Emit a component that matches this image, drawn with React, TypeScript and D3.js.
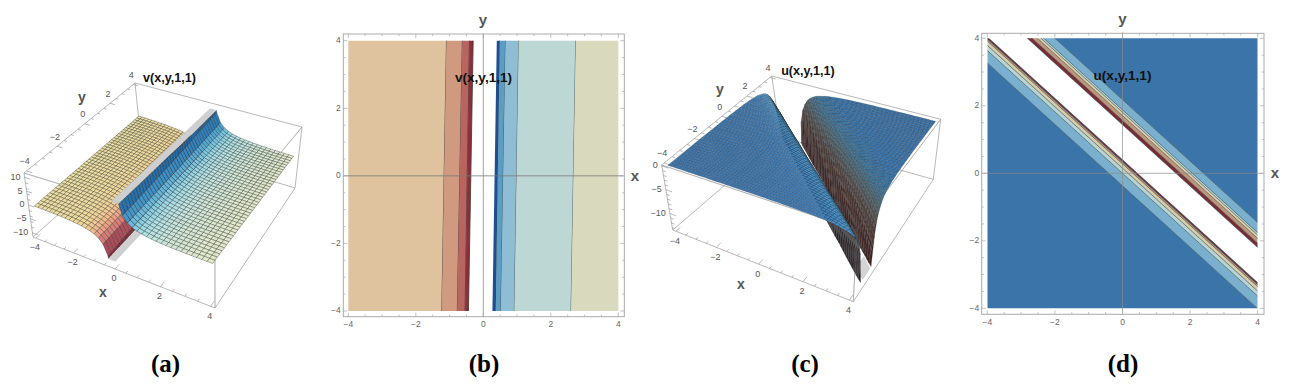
import React from "react";
import * as d3 from "d3";

// ---------- data ----------
const major3D = [-4, -2, 0, 2, 4];
const minor3D = [-3.5, -3, -2.5, -1.5, -1, -0.5, 0.5, 1, 1.5, 2.5, 3, 3.5];
const meshA = d3.range(-20, 21).map((i) => i * 0.2);
const meshC = d3.range(-25, 26).map((i) => i * 0.16);

// v(x,y,1,1): height against the distance from the singular line (odd about it)
const vDist = [0.05, 0.2, 0.3, 0.4, 0.5, 0.6, 0.7, 0.8, 0.9, 1, 1.2, 1.4, 1.7, 2, 2.5, 3, 3.5, 4];
const vHeight = [60, 15, 10, 7.5, 6, 5, 4.3, 3.75, 3.33, 3, 2.5, 2.15, 1.76, 1.5, 1.2, 1, 0.86, 0.75];
const vZ = [-10, -6, -4, -3, -2, -0.75, 0.75, 1, 1.5, 2.5, 3.5, 5, 7, 10];
const vColors = ["#7a2238", "#c4606a", "#e59080", "#f2b98e", "#f0d69a", "#ecdfa6", "#e6e9c6", "#dde7cf", "#c9e6dc", "#a5dce4", "#7cc8e0", "#4aa0cf", "#2f80bb", "#1f5f9f"];

// u(x,y,1,1): height against the distance from the singular line
const uDist = [0.05, 0.1, 0.2, 0.3, 0.4, 0.5, 0.6, 0.7, 0.8, 1, 1.25, 1.5, 2, 2.5, 3, 4, 5, 6, 9];
const uHeight = [-400, -300, -75, -33, -19, -12, -8.3, -6.1, -4.7, -3, -1.9, -1.33, -0.75, -0.48, -0.33, -0.19, -0.12, -0.08, -0.04];
const uZ = [0, -0.5, -1.5, -3, -6, -13];
const uLeftColors = ["#3a72a8", "#3f7cb4", "#4f9dd2", "#4a7e98", "#4f4a48", "#2e1c1c"];
const uRightColors = ["#3a72a8", "#3574ad", "#3f7596", "#4e666e", "#574a44", "#3f1e1c"];

// contour panel (b): band edges at y=4 and y=-4
const bTop = [-4, -1.09, -0.62, -0.41, -0.3];
const bBottom = [-4, -1.23, -0.77, -0.54, -0.44];
const bLeftColors = ["#dfc39f", "#cf9a7f", "#b8655f", "#8a2f3b"];
const bRightTop = [0.4, 0.49, 0.66, 1.05, 2.74, 4];
const bRightBottom = [0.27, 0.37, 0.52, 0.92, 2.6, 4];
const bRightColors = ["#1f4f92", "#5c9dc4", "#8fbdd3", "#bdd7d5", "#d9d9bd"];

// contour panel (d): band edges as y + 0.91 x = c
const dSlope = 0.91;
const dLow = [-0.37, 0, 0.15, 0.28, 0.34, 0.4];
const dLowColors = ["#7ab0cd", "#b9d4d2", "#d9cca6", "#c19577", "#7a2a33"];
const dHigh = [1.44, 1.57, 1.71, 1.81, 1.88, 2.18];
const dHighColors = ["#7a2a33", "#c19577", "#d9cca6", "#b9d4d2", "#7ab0cd"];
const dBase = "#3b74a8";

const ticks2D = [-4, -2, 0, 2, 4];
const minor2D = d3.range(-8, 9).map((i) => i * 0.5).filter((v) => v % 2 !== 0);

const tickFont = "'Liberation Sans', Arial, sans-serif";
const fmt = (v: number) => (v < 0 ? "\u2212" + Math.abs(v) : String(v));

// ---------- 3D helpers ----------
type P = [number, number];
type Box = { top: P[]; bottom: P[]; zTop: number; zBottom: number; rx: number; ry: number };
const half = 4.16;

function projector(b: Box) {
  const nx = d3.scaleLinear().domain([-half, half]).range([0, 1]);
  const nz = d3.scaleLinear().domain([b.zTop, b.zBottom]).range([0, 1]);
  const warp = (t: number, r: number) => t / (t + (1 - t) * r);
  const bil = (c: P[], u: number, v: number): P => [
    (1 - v) * ((1 - u) * c[0][0] + u * c[1][0]) + v * ((1 - u) * c[3][0] + u * c[2][0]),
    (1 - v) * ((1 - u) * c[0][1] + u * c[1][1]) + v * ((1 - u) * c[3][1] + u * c[2][1]),
  ];
  return (x: number, y: number, z: number): P => {
    const u = warp(nx(x), b.rx);
    const v = warp(nx(y), b.ry);
    const w = nz(z);
    const t = bil(b.top, u, v);
    const o = bil(b.bottom, u, v);
    return [t[0] + (o[0] - t[0]) * w, t[1] + (o[1] - t[1]) * w];
  };
}

type V3 = [number, number, number];
function clipZ(poly: V3[], limit: number, keepBelow: boolean): V3[] {
  const inside = (p: V3) => (keepBelow ? p[2] <= limit : p[2] >= limit);
  const out: V3[] = [];
  poly.forEach((p, i) => {
    const q = poly[(i + 1) % poly.length];
    const a = inside(p), c = inside(q);
    if (a) out.push(p);
    if (a !== c) {
      const t = (limit - p[2]) / (q[2] - p[2]);
      out.push([p[0] + (q[0] - p[0]) * t, p[1] + (q[1] - p[1]) * t, limit]);
    }
  });
  return out;
}

type Cell = { d: string; fill: string; key: number };

function cells(
  mesh: number[],
  side: (x: number, y: number) => number,
  height: (x: number, y: number) => number,
  lo: number,
  hi: number,
  proj: (x: number, y: number, z: number) => P,
  color: (z: number, s: number) => string,
  keyOf: (x: number, y: number, s: number) => number,
  wanted: number
): Cell[] {
  const res: Cell[] = [];
  const line = d3.line();
  for (let i = 0; i < mesh.length - 1; i++)
    for (let j = 0; j < mesh.length - 1; j++) {
      const cx = [mesh[i], mesh[i + 1], mesh[i + 1], mesh[i]];
      const cy = [mesh[j], mesh[j], mesh[j + 1], mesh[j + 1]];
      const signs = cx.map((x, k) => Math.sign(side(x, cy[k])));
      if (signs.some((s) => s !== wanted)) continue;
      let poly: V3[] = cx.map((x, k) => [x, cy[k], height(x, cy[k])] as V3);
      const mz = d3.mean(poly, (p) => Math.max(lo, Math.min(hi, p[2]))) as number;
      poly = clipZ(poly, hi, true);
      if (poly.length) poly = clipZ(poly, lo, false);
      if (poly.length < 3) continue;
      const mx = (cx[0] + cx[1]) / 2, my = (cy[0] + cy[2]) / 2;
      res.push({
        d: (line(poly.map((p) => proj(p[0], p[1], p[2]))) as string) + "Z",
        fill: color(mz, wanted),
        key: keyOf(mx, my, side(mx, my)),
      });
    }
  return res.sort((a, b) => a.key - b.key);
}

function Cube({ box, part }: { box: Box; part: "back" | "front" }) {
  const t = box.top, b = box.bottom;
  const seg = (p: P, q: P, k: string) => (
    <line key={k} x1={p[0]} y1={p[1]} x2={q[0]} y2={q[1]} stroke="#9a9a9a" strokeWidth={0.7} opacity={part === "front" ? 0.3 : 1} />
  );
  if (part === "front") return <g>{seg(t[0], t[1], "a")}{seg(t[1], t[2], "b")}{seg(t[1], b[1], "c")}</g>;
  return (
    <g>
      {[0, 1, 2, 3].map((i) => seg(t[i], t[(i + 1) % 4], "t" + i))}
      {[0, 1, 2, 3].map((i) => seg(b[i], b[(i + 1) % 4], "o" + i))}
      {[0, 1, 2, 3].map((i) => seg(t[i], b[i], "v" + i))}
    </g>
  );
}

function Ticks3D({ box, proj, zMajor, zMinor, labelX, labelY }: any) {
  const marks: any[] = [];
  const tick = (p: P, q: P, k: string) => marks.push(<line key={k} x1={p[0]} y1={p[1]} x2={q[0]} y2={q[1]} stroke="#8a8a8a" strokeWidth={0.6} />);
  const text = (x: number, y: number, s: string, k: string, anchor = "middle") =>
    marks.push(
      <text key={k} x={x} y={y} textAnchor={anchor} dominantBaseline="middle" fontFamily={tickFont} fontSize={9} fill="#555">{s}</text>
    );
  [...major3D, ...minor3D].forEach((v) => {
    const len = major3D.includes(v) ? 0.3 : 0.15;
    const a = proj(v, -half, box.zBottom);
    tick(a, proj(v, -half + len, box.zBottom), "x" + v);
    const c = proj(-half, v, box.zTop);
    tick(c, proj(-half + len, v, box.zTop), "y" + v);
    if (major3D.includes(v)) {
      text(a[0] - 1, a[1] + 10, fmt(v), "xl" + v);
      text(c[0] - 2, c[1] - 9, fmt(v), "yl" + v);
    }
  });
  [...zMajor, ...zMinor].forEach((v: number) => {
    const len = zMajor.includes(v) ? 0.3 : 0.15;
    const a = proj(-half, -half, v);
    tick(a, proj(-half + len, -half, v), "z" + v);
    if (zMajor.includes(v)) text(a[0] - 4, a[1], fmt(v), "zl" + v, "end");
  });
  return (
    <g>
      {marks}
      <text x={labelX[0]} y={labelX[1]} textAnchor="middle" dominantBaseline="middle" fontFamily={tickFont} fontWeight="bold" fontSize={14} fill="#555">x</text>
      <text x={labelY[0]} y={labelY[1]} textAnchor="middle" dominantBaseline="middle" fontFamily={tickFont} fontWeight="bold" fontSize={14} fill="#555">y</text>
    </g>
  );
}

const Title = ({ x, y, s, size = 12.6 }: { x: number; y: number; s: string; size?: number }) => (
  <text x={x} y={y} textAnchor="middle" fontFamily={tickFont} fontWeight="bold" fontSize={size} fill="#111">{s}</text>
);
const Caption = ({ x, s }: { x: number; s: string }) => (
  <text x={x} y={372} textAnchor="middle" fontFamily="'Liberation Serif', serif" fontWeight="bold" fontSize={25} fill="#000">{s}</text>
);

// ---------- panel (a) ----------
function PanelA() {
  const box: Box = {
    top: [[24, 173], [215, 232], [302, 127], [135, 83]],
    bottom: [[33, 237], [215, 308], [295, 188], [141, 141]],
    zTop: 11.6, zBottom: -11.6, rx: 1.22, ry: 0.83,
  };
  const proj = projector(box);
  const prof = d3.scaleLinear().domain(vDist).range(vHeight).clamp(true);
  const col = d3.scaleLinear<string>().domain(vZ).range(vColors).clamp(true);
  const dist = (x: number, y: number) => x - 0.0175 * y - 0.001;
  const h = (x: number, y: number) => Math.sign(dist(x, y)) * prof(Math.abs(dist(x, y)));
  const clip = 10;
  const left = cells(meshA, dist, h, -clip, clip, proj, (z) => col(z), (x, y) => x - y, -1);
  const right = cells(meshA, dist, h, -clip, clip, proj, (z) => col(z), (x, y) => x - y, 1);
  const line = d3.line();
  const cap = (x0: number, x1: number, z: number) =>
    (line([proj(x0 - 0.07, -4, z), proj(x1 - 0.07, -4, z), proj(x1 + 0.07, 4, z), proj(x0 + 0.07, 4, z)]) as string) + "Z";
  return (
    <g>
      <Cube box={box} part="back" />
      <Ticks3D box={box} proj={proj} zMajor={[-10, -5, 0, 5, 10]} zMinor={[-8, -6, -4, -2, 2, 4, 6, 8]} labelX={[103, 293]} labelY={[82, 98]} />
      {left.map((c, i) => <path key={i} d={c.d} fill={c.fill} stroke="#2c2c22" strokeOpacity={0.8} strokeWidth={0.45} />)}
      <path d={cap(-0.3, 0, -clip)} fill="#cfcfcf" stroke="#bdbdbd" strokeWidth={0.4} />
      <path d={cap(0, 0.32, clip)} fill="#cfcfcf" stroke="#bdbdbd" strokeWidth={0.4} />
      {right.map((c, i) => <path key={i} d={c.d} fill={c.fill} stroke="#1e2c32" strokeOpacity={0.8} strokeWidth={0.45} />)}
      <Cube box={box} part="front" />
      <Title x={169.5} y={81.5} s="v(x,y,1,1)" />
    </g>
  );
}

// ---------- panel (c) ----------
function PanelC() {
  const box: Box = {
    top: [[661.7, 165], [857, 230], [940.7, 119.3], [771.7, 76]],
    bottom: [[672.7, 230], [853.3, 301.7], [933.3, 179.3], [781, 137]],
    zTop: 0.2, zBottom: -13.5, rx: 1.1, ry: 0.83,
  };
  const proj = projector(box);
  const prof = d3.scaleLinear().domain(uDist).range(uHeight).clamp(true);
  const colL = d3.scaleLinear<string>().domain(uZ).range(uLeftColors).clamp(true);
  const colR = d3.scaleLinear<string>().domain(uZ).range(uRightColors).clamp(true);
  const dist = (x: number, y: number) => y + dSlope * x - 0.923;
  const h = (x: number, y: number) => prof(Math.abs(dist(x, y)));
  const clip = -13.3;
  const right = cells(meshC, dist, h, clip, 1, proj, (z) => colR(z), (x, y) => x - y, 1);
  const left = cells(meshC, dist, h, clip, 1, proj, (z) => colL(z), (x, y, s) => -s * 100 + (x - y), -1);
  const line = d3.line();
  const capPts: P[] = [proj(3.5, -2.6, clip), proj(4, -3.0, clip), proj(4, -2.35, clip), proj(3.5, -1.85, clip)];
  return (
    <g>
      <Cube box={box} part="back" />
      <Ticks3D box={box} proj={proj} zMajor={[0, -5, -10]} zMinor={[-1, -2, -3, -4, -6, -7, -8, -9, -11, -12, -13]} labelX={[741, 285]} labelY={[720, 90]} />
      <path d={(line(capPts) as string) + "Z"} fill="#d4d4d4" stroke="#bbb" strokeWidth={0.4} />
      {right.map((c, i) => <path key={i} d={c.d} fill={c.fill} stroke="#1c1c22" strokeOpacity={0.45} strokeWidth={0.4} />)}
      {left.map((c, i) => <path key={i} d={c.d} fill={c.fill} stroke="#1a2430" strokeOpacity={0.45} strokeWidth={0.4} />)}
      <Cube box={box} part="front" />
      <Title x={808} y={74.5} s="u(x,y,1,1)" />
    </g>
  );
}

// ---------- 2D frame ----------
function Frame({ sx, sy, frame, labelX, labelY }: any) {
  const [l, t, r, b] = frame;
  const els: any[] = [];
  [...ticks2D, ...minor2D].forEach((v) => {
    const len = ticks2D.includes(v) ? 4 : 2.2;
    const X = sx(v), Y = sy(v);
    const st = { stroke: "#a8a8a8", strokeWidth: 0.7 };
    els.push(<line key={"a" + v} x1={X} x2={X} y1={b} y2={b - len} {...st} />);
    els.push(<line key={"b" + v} x1={X} x2={X} y1={t} y2={t + len} {...st} />);
    els.push(<line key={"c" + v} x1={l} x2={l + len} y1={Y} y2={Y} {...st} />);
    els.push(<line key={"d" + v} x1={r} x2={r - len} y1={Y} y2={Y} {...st} />);
  });
  ticks2D.forEach((v) => {
    els.push(<text key={"lx" + v} x={sx(v)} y={b + 8} textAnchor="middle" dominantBaseline="middle" fontFamily={tickFont} fontSize={8.5} fill="#666">{fmt(v)}</text>);
    els.push(<text key={"ly" + v} x={l - 2.5} y={sy(v)} textAnchor="end" dominantBaseline="middle" fontFamily={tickFont} fontSize={8.5} fill="#666">{fmt(v)}</text>);
  });
  return (
    <g>
      <rect x={l} y={t} width={r - l} height={b - t} fill="none" stroke="#ababab" strokeWidth={1} />
      {els}
      <text x={labelX[0]} y={labelX[1]} textAnchor="middle" dominantBaseline="middle" fontFamily={tickFont} fontWeight="bold" fontSize={15} fill="#555">x</text>
      <text x={labelY[0]} y={labelY[1]} textAnchor="middle" dominantBaseline="middle" fontFamily={tickFont} fontWeight="bold" fontSize={15} fill="#555">y</text>
    </g>
  );
}

// ---------- panel (b) ----------
function PanelB() {
  const sx = d3.scaleLinear().domain([-4, 4]).range([348.3, 618.3]);
  const sy = d3.scaleLinear().domain([-4, 4]).range([311, 40.7]);
  const line = d3.line();
  const band = (t0: number, t1: number, b0: number, b1: number) =>
    (line([[sx(t0), sy(4)], [sx(t1), sy(4)], [sx(b1), sy(-4)], [sx(b0), sy(-4)]]) as string) + "Z";
  const rows: any[] = [];
  bLeftColors.forEach((c, i) => {
    const endT = i + 1 < bTop.length ? bTop[i + 1] : bTop[i];
    const endB = i + 1 < bBottom.length ? bBottom[i + 1] : bBottom[i];
    rows.push(<path key={"l" + i} d={band(bTop[i], endT, bBottom[i], endB)} fill={c} />);
    rows.push(<line key={"ll" + i} x1={sx(endT)} y1={sy(4)} x2={sx(endB)} y2={sy(-4)} stroke="#453a36" strokeOpacity={0.85} strokeWidth={1} />);
  });
  bRightColors.forEach((c, i) => {
    rows.push(<path key={"r" + i} d={band(bRightTop[i], bRightTop[i + 1], bRightBottom[i], bRightBottom[i + 1])} fill={c} />);
    if (i + 1 < bRightColors.length)
      rows.push(<line key={"rl" + i} x1={sx(bRightTop[i + 1])} y1={sy(4)} x2={sx(bRightBottom[i + 1])} y2={sy(-4)} stroke="#3a484e" strokeOpacity={0.8} strokeWidth={1} />);
  });
  return (
    <g>
      {rows}
      <line x1={sx(-4) - 5} x2={sx(4) + 5} y1={sy(0)} y2={sy(0)} stroke="#7a7a7a" strokeWidth={0.8} />
      <line x1={sx(0)} x2={sx(0)} y1={sy(4) - 7} y2={sy(-4) + 6} stroke="#8a8a8a" strokeWidth={0.8} />
      <Frame sx={sx} sy={sy} frame={[343.3, 34, 624.3, 316.7]} labelX={[635, 177]} labelY={[483, 21]} />
      <Title x={483.5} y={81.5} s="v(x,y,1,1)" size={13.6} />
    </g>
  );
}

// ---------- panel (d) ----------
function PanelD() {
  const sx = d3.scaleLinear().domain([-4, 4]).range([987.3, 1257.7]);
  const sy = d3.scaleLinear().domain([-4, 4]).range([308.3, 38.3]);
  const line = d3.line();
  const band = (c0: number, c1: number) =>
    (line([
      [sx(-4), sy(c0 + dSlope * 4)],
      [sx(4), sy(c0 - dSlope * 4)],
      [sx(4), sy(c1 - dSlope * 4)],
      [sx(-4), sy(c1 + dSlope * 4)],
    ]) as string) + "Z";
  const edge = (c: number, k: string) => (
    <line key={k} x1={sx(-4)} y1={sy(c + dSlope * 4)} x2={sx(4)} y2={sy(c - dSlope * 4)} stroke="#2c4a55" strokeOpacity={0.8} strokeWidth={0.8} />
  );
  return (
    <g>
      <clipPath id="plotD"><rect x={sx(-4)} y={sy(4)} width={sx(4) - sx(-4)} height={sy(-4) - sy(4)} /></clipPath>
      <g clipPath="url(#plotD)">
        <path d={band(-14, dLow[0])} fill={dBase} />
        <path d={band(dHigh[5], 14)} fill={dBase} />
        {dLowColors.map((c, i) => <path key={"a" + i} d={band(dLow[i], dLow[i + 1])} fill={c} />)}
        {dHighColors.map((c, i) => <path key={"b" + i} d={band(dHigh[i], dHigh[i + 1])} fill={c} />)}
        {dLow.map((c, i) => edge(c, "e" + i))}
        {dHigh.map((c, i) => edge(c, "f" + i))}
      </g>
      <line x1={sx(-4) - 5} x2={sx(4) + 5} y1={sy(0)} y2={sy(0)} stroke="#8a8a8a" strokeOpacity={0.75} strokeWidth={0.9} />
      <line x1={sx(0)} x2={sx(0)} y1={sy(4) - 6} y2={sy(-4) + 6} stroke="#8a8a8a" strokeOpacity={0.75} strokeWidth={0.9} />
      <Frame sx={sx} sy={sy} frame={[981.7, 33.3, 1264, 314.3]} labelX={[1275, 174]} labelY={[1122.5, 20]} />
      <Title x={1122.5} y={80} s="u(x,y,1,1)" size={13.6} />
    </g>
  );
}

export default function App() {
  return (
    <svg width={1294} height={384} style={{ position: "absolute", left: 0, top: 0, background: "#fff" }}>
      <PanelA />
      <PanelB />
      <PanelC />
      <PanelD />
      <Caption x={165.5} s="(a)" />
      <Caption x={484} s="(b)" />
      <Caption x={805} s="(c)" />
      <Caption x={1123} s="(d)" />
    </svg>
  );
}
